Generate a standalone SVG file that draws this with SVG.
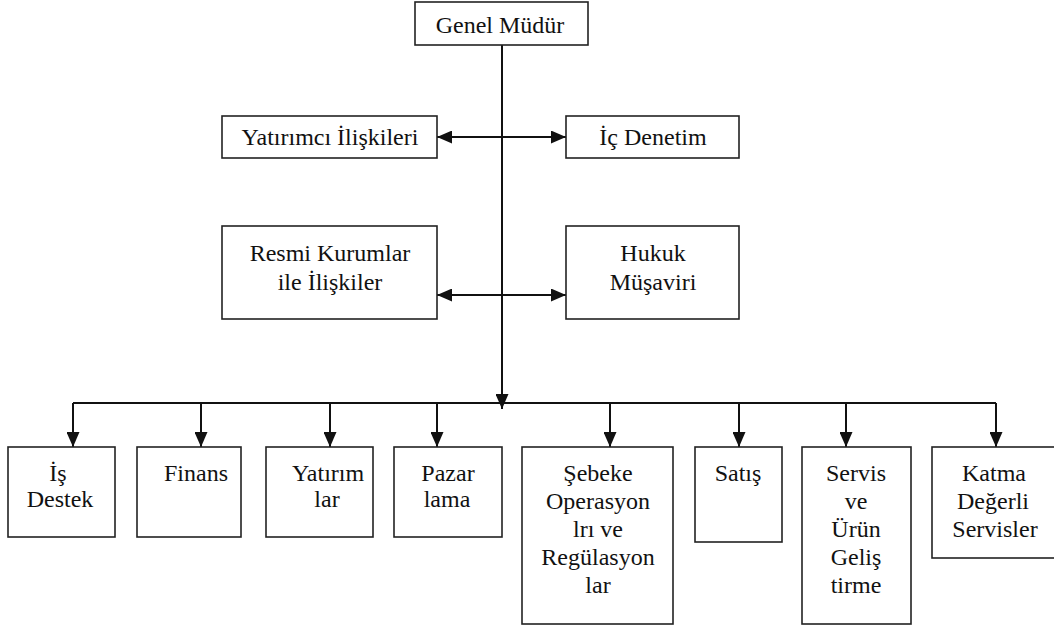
<svg xmlns="http://www.w3.org/2000/svg" width="1054" height="630" viewBox="0 0 1054 630">
<style>
.box{fill:#fff;stroke:#222;stroke-width:1.6}
.t{font-family:'Liberation Serif',Tinos,'Times New Roman','DejaVu Serif',serif;font-size:24px;text-anchor:middle;fill:#111}
.c{fill:none;stroke:#111;stroke-width:2}
</style>
<defs>
<marker id="ah" markerUnits="userSpaceOnUse" markerWidth="15" markerHeight="13" viewBox="0 0 15 13" refX="15" refY="6.5" orient="auto-start-reverse">
<path d="M0,0 L15,6.5 L0,13 z" fill="#111"/>
</marker>
</defs>
<rect width="1054" height="630" fill="#fff"/>
<g id="connectors">
<path class="c" d="M502,45 V409" marker-end="url(#ah)"/>
<path class="c" d="M73,403 H996"/>
<path class="c" d="M437,137 H566" marker-start="url(#ah)" marker-end="url(#ah)"/>
<path class="c" d="M437,295 H566" marker-start="url(#ah)" marker-end="url(#ah)"/>
<path class="c" d="M73,403 V447" marker-end="url(#ah)"/>
<path class="c" d="M201,403 V447" marker-end="url(#ah)"/>
<path class="c" d="M330,403 V447" marker-end="url(#ah)"/>
<path class="c" d="M437,403 V447" marker-end="url(#ah)"/>
<path class="c" d="M610,403 V447" marker-end="url(#ah)"/>
<path class="c" d="M739,403 V447" marker-end="url(#ah)"/>
<path class="c" d="M846,403 V447" marker-end="url(#ah)"/>
<path class="c" d="M996,403 V447" marker-end="url(#ah)"/>
</g>
<g font-family="Liberation Serif, serif">
<g id="genel-mudur"><rect class="box" x="415" y="2" width="173" height="43"/><text class="t" x="500" y="33">Genel Müdür</text></g>
<g id="yatirimci-iliskileri"><rect class="box" x="222" y="116" width="215" height="42"/><text class="t" x="330" y="145">Yatırımcı İlişkileri</text></g>
<g id="ic-denetim"><rect class="box" x="566" y="116" width="173" height="42"/><text class="t" x="653" y="145">İç Denetim</text></g>
<g id="resmi-kurumlar"><rect class="box" x="222" y="226" width="215" height="93"/><text class="t" x="330" y="261">Resmi Kurumlar</text><text class="t" x="330" y="290">ile İlişkiler</text></g>
<g id="hukuk-musaviri"><rect class="box" x="566" y="226" width="173" height="93"/><text class="t" x="653" y="261">Hukuk</text><text class="t" x="653" y="290">Müşaviri</text></g>
<g id="is-destek"><rect class="box" x="8" y="447" width="107" height="90"/><text class="t" x="58" y="481">İş</text><text class="t" x="60" y="507">Destek</text></g>
<g id="finans"><rect class="box" x="137" y="447" width="104" height="90"/><text class="t" x="196" y="481">Finans</text></g>
<g id="yatirimlar"><rect class="box" x="266" y="447" width="107" height="90"/><text class="t" x="328" y="481">Yatırım</text><text class="t" x="327" y="507">lar</text></g>
<g id="pazarlama"><rect class="box" x="394" y="447" width="108" height="90"/><text class="t" x="448" y="481">Pazar</text><text class="t" x="447" y="507">lama</text></g>
<g id="sebeke"><rect class="box" x="522" y="447" width="151" height="177"/><text class="t" x="598" y="481">Şebeke</text><text class="t" x="598" y="509">Operasyon</text><text class="t" x="598" y="537">lrı ve</text><text class="t" x="598" y="565">Regülasyon</text><text class="t" x="598" y="593">lar</text></g>
<g id="satis"><rect class="box" x="695" y="447" width="87" height="95"/><text class="t" x="738" y="481">Satış</text></g>
<g id="servis"><rect class="box" x="802" y="447" width="109" height="177"/><text class="t" x="856" y="481">Servis</text><text class="t" x="856" y="509">ve</text><text class="t" x="856" y="537">Ürün</text><text class="t" x="856" y="565">Geliş</text><text class="t" x="856" y="593">tirme</text></g>
<g id="katma"><rect class="box" x="932" y="447" width="130" height="111"/><text class="t" x="994" y="481">Katma</text><text class="t" x="993" y="509">Değerli</text><text class="t" x="995" y="537">Servisler</text></g>
</g>
</svg>
